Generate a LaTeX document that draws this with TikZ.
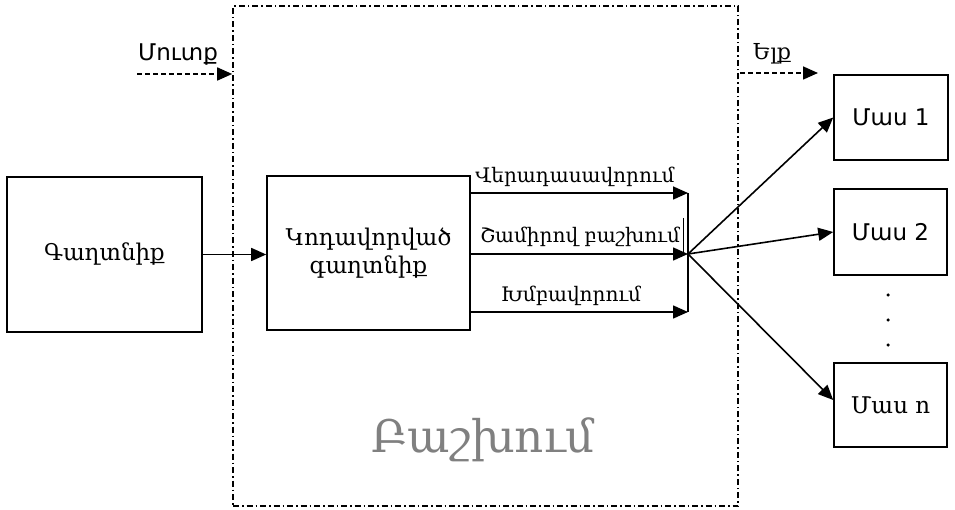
\documentclass[tikz,border=0pt]{standalone}
\usepackage{fontspec}
\newfontfamily\armserif{DejaVu Serif}
\newfontfamily\armsans{DejaVu Sans}
\usetikzlibrary{arrows.meta}
\begin{document}
\begin{tikzpicture}[x=1pt,y=-1pt,
  box/.style={draw,line width=1.6pt,minimum width=#1,inner sep=0pt},
  tip/.style={-{Triangle[length=15pt,width=13pt]}},
  arr/.style={line width=1.6pt,tip},
  darr/.style={line width=1.6pt,dash pattern=on 5pt off 3pt,tip},
  frame/.style={draw,line width=1.6pt,dash pattern=on 6pt off 3pt on 1.5pt off 3pt},
  lbl/.style={font=\armserif\fontsize{20}{22}\selectfont,inner sep=0pt},
  boxtxt/.style={font=\armserif\fontsize{23}{28}\selectfont,align=center},
  sanstxt/.style={font=\armsans\fontsize{23}{26}\selectfont,inner sep=0pt},
  dotn/.style={circle,fill,inner sep=0pt,minimum size=3.5pt}]
\useasboundingbox (0,0) rectangle (955,510);
\node[frame,minimum width=505pt,minimum height=500pt] (fr) at (485.5,256) {};
\node[box=195pt,minimum height=155pt,boxtxt] (sec) at (104.5,254.5) {Գաղտնիք};
\node[box=203pt,minimum height=154pt,boxtxt] (enc) at (368.5,253) {Կոդավորված\\գաղտնիք};
\node[box=114pt,minimum height=85pt,sanstxt] (p1) at (891,117.5) {Մաս 1};
\node[box=113pt,minimum height=86pt,sanstxt] (p2) at (890.5,232) {Մաս 2};
\node[box=113pt,minimum height=84pt,boxtxt,font=\armserif\fontsize{23}{26}\selectfont] (pn) at (890.5,405) {Մաս n};
\draw[arr] (sec.east) -- (enc.west |- sec.east);
\coordinate (jt) at (688,193);
\coordinate (j) at (688,254);
\coordinate (jb) at (688,312);
\draw[line width=1.6pt] (jt) -- (jb);
\draw[arr] (enc.east |- jt) -- (jt);
\draw[arr] (enc.east |- j) -- (j);
\draw[arr] (enc.east |- jb) -- (jb);
\coordinate (s1) at (683,218);
\coordinate (s2) at (683,252);
\draw[line width=1pt] (s1) -- (s2);
\node[lbl] (l1) at (575,177) {Վերադասավորում};
\node[lbl] (l2) at (580,237) {Շամիրով բաշխում};
\node[lbl] (l3) at (571,296) {Խմբավորում};
\draw[arr] (j) -- (p1.west);
\draw[arr] (j) -- (p2.west);
\draw[arr] (j) -- ([yshift=5pt]pn.west);
\node[dotn] (d1) at (888,295) {};
\node[dotn] (d2) at (888,320) {};
\node[dotn] (d3) at (888,345) {};
\coordinate (in0) at (137,74);
\draw[darr] (in0) -- (fr.west |- in0);
\node[sanstxt] (inl) at (178,55) {Մուտք};
\coordinate (out0) at (740,73);
\coordinate (out1) at (818,73);
\draw[darr] (out0) -- (out1);
\node[lbl,font=\armserif\fontsize{22}{24}\selectfont] (outl) at (772,54) {Ելք};
\node[font=\armserif\fontsize{45}{50}\selectfont,text=black!50] (dist) at (483,440) {Բաշխում};
\end{tikzpicture}
\end{document}
